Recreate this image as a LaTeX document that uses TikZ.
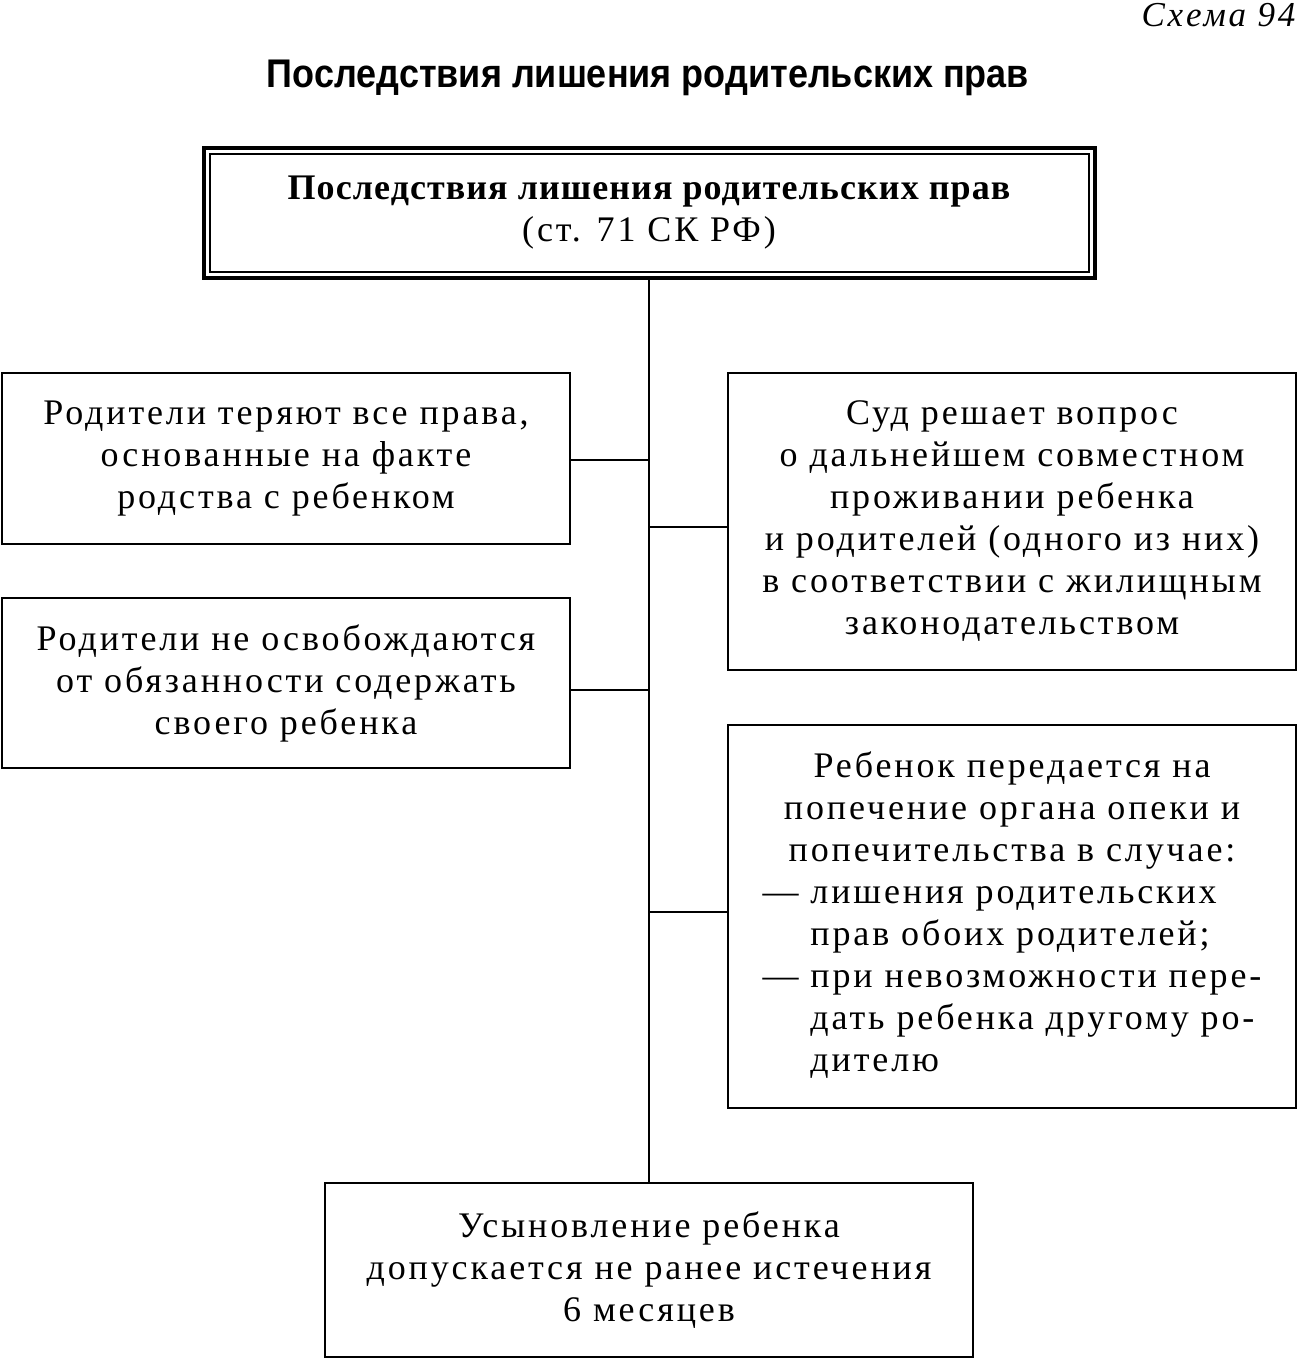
\documentclass[tikz,border=0pt]{standalone}
\usepackage{fontspec}
\setmainfont{Liberation Serif}
\newfontfamily\bodyfont[LetterSpace=8]{Liberation Serif}
\newfontfamily\boldbodyfont[LetterSpace=3]{Liberation Serif}
\newfontfamily\titlefont{Liberation Sans}
\usetikzlibrary{calc}
\tikzset{
  box/.style={draw, line width=2pt, inner sep=0pt, align=center,
    font=\bodyfont\fontsize{36}{42}\selectfont},
  link/.style={line width=2pt},
}
\begin{document}
\begin{tikzpicture}[x=1pt,y=-1pt]
\path[fill=white] (0,0) rectangle (1301,1359);
\useasboundingbox (0,0) rectangle (1301,1359);
\node[font=\bodyfont\itshape\fontsize{35}{40}\selectfont, anchor=east] (scheme) at (1299,15) {Схема 94};
\node[font=\titlefont\bfseries\fontsize{40}{44}\selectfont] (title) at (648,78) {\scalebox{0.9}[1]{Последствия лишения родительских прав}};
\node[box, line width=4pt, minimum width=891pt, minimum height=130pt] (top) at (649,213)
  {{\boldbodyfont\bfseries Последствия лишения родительских прав}\\(ст. 71 СК РФ)};
\draw[line width=2pt] ([shift={(8,8)}]top.north west) rectangle ([shift={(-8,-8)}]top.south east);
\node[box, minimum width=568pt, minimum height=171pt] (l1) at (286,458.5)
  {Родители теряют все права,\\основанные на факте\\родства с ребенком};
\node[box, minimum width=568pt, minimum height=170pt] (l2) at (286,683)
  {Родители не освобождаются\\от обязанности содержать\\своего ребенка};
\node[box, minimum width=568pt, minimum height=297pt] (r1) at (1012,521.5)
  {Суд решает вопрос\\о дальнейшем совместном\\проживании ребенка\\и родителей (одного из них)\\в соответствии с жилищным\\законодательством};
\node[box, minimum width=568pt, minimum height=383pt] (r2) at (1012,916.5)
  {\begin{tabular}{@{}l@{ }l@{}}
  \multicolumn{2}{c}{Ребенок передается на}\\
  \multicolumn{2}{c}{попечение органа опеки и}\\
  \multicolumn{2}{c}{попечительства в случае:}\\
  — & лишения родительских\\
    & прав обоих родителей;\\
  — & при невозможности пере-\\
    & дать ребенка другому ро-\\
    & дителю
  \end{tabular}};
\node[box, minimum width=648pt, minimum height=174pt] (bot) at (649,1270)
  {Усыновление ребенка\\допускается не ранее истечения\\6 месяцев};
\draw[link] (top.south) -- (bot.north);
\draw[link] ([yshift=-1.5pt]l1.east) -- ([yshift=-1.5pt]l1.east -| top.south);
\draw[link] ([yshift=-7pt]l2.east) -- ([yshift=-7pt]l2.east -| top.south);
\draw[link] ([yshift=-5.5pt]r1.west) -- ([yshift=-5.5pt]r1.west -| top.south);
\draw[link] ([yshift=4.5pt]r2.west) -- ([yshift=4.5pt]r2.west -| top.south);
\end{tikzpicture}
\end{document}
